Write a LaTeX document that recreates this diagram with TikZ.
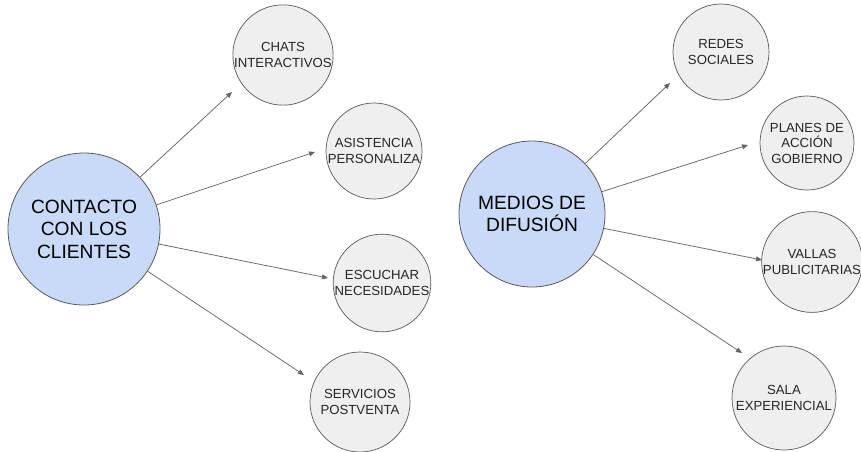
\documentclass[tikz,border=0pt]{standalone}
\usepackage{fontspec}
\setmainfont{Liberation Sans}
\usetikzlibrary{arrows.meta}
\definecolor{hubfill}{HTML}{C9DAF8}
\definecolor{leaffill}{HTML}{EFEFEF}
\definecolor{edgegray}{HTML}{595959}
\definecolor{arrowgray}{HTML}{666666}
\begin{document}
\begin{tikzpicture}[x=1pt,y=-1pt,
  hub/.style={circle, draw=edgegray, line width=0.8pt, fill=hubfill,
    inner sep=0pt, align=center, text=black,
    font=\fontsize{19.2}{22.5}\selectfont},
  leaf/.style={circle, draw=edgegray, line width=0.7pt, fill=leaffill,
    minimum size=96pt, inner sep=0pt, align=center, text=black!85,
    font=\fontsize{13.2}{15.5}\selectfont},
  conn/.style={draw=arrowgray, line width=0.75pt,
    -{Triangle[length=6pt,width=5pt]}}]
\useasboundingbox (0,0) rectangle (861,451);
\fill[white] (0,0) rectangle (861,451);

% left cluster
\node[hub, minimum size=152pt] (contacto) at (84,229) {CONTACTO\\CON LOS\\CLIENTES};
\node[leaf] (chats) at (283,55) {CHATS\\INTERACTIVOS};
\node[leaf] (asist) at (374,151) {ASISTENCIA\\PERSONALIZA};
\node[leaf] (escuchar) at (382,283) {ESCUCHAR\\NECESIDADES};
\node[leaf, minimum size=100pt] (servicios) at (360,402) {SERVICIOS\\POSTVENTA};

\coordinate (tchats) at (232,92);
\coordinate (tasist) at (315,152);
\coordinate (tescuchar) at (328,278);
\coordinate (tservicios) at (304,375);

\draw[conn] (contacto) -- (tchats);
\draw[conn] (contacto) -- (tasist);
\draw[conn] (contacto) -- (tescuchar);
\draw[conn] (contacto) -- (tservicios);

% right cluster
\node[hub, minimum size=146pt] (medios) at (532,214) {MEDIOS DE\\DIFUSIÓN};
\node[leaf] (redes) at (721,52) {REDES\\SOCIALES};
\node[leaf, minimum size=94pt] (planes) at (807,143) {PLANES DE\\ACCIÓN\\GOBIERNO};
\node[leaf, minimum size=93pt] (vallas) at (812,262) {VALLAS\\PUBLICITARIAS};
\node[leaf, minimum size=104pt] (sala) at (784,398) {SALA\\EXPERIENCIAL};

\coordinate (tredes) at (670,83);
\coordinate (tplanes) at (748,145);
\coordinate (tvallas) at (762,260);
\coordinate (tsala) at (742,353);

\draw[conn] (medios) -- (tredes);
\draw[conn] (medios) -- (tplanes);
\draw[conn] (medios) -- (tvallas);
\draw[conn] (medios) -- (tsala);
\end{tikzpicture}
\end{document}
